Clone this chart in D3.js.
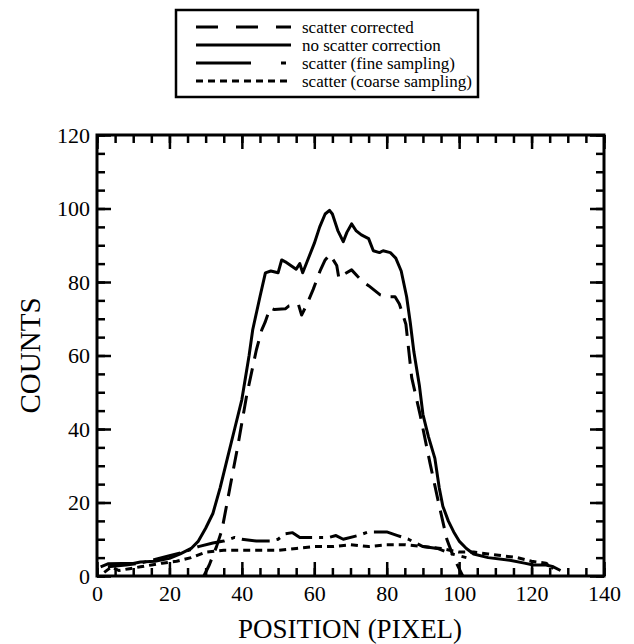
<!DOCTYPE html>
<html><head><meta charset="utf-8">
<script src="https://cdn.jsdelivr.net/npm/d3@7"></script>
<style>body{margin:0;background:#fff}svg text{font-family:"Times New Roman",Times,"Liberation Serif","DejaVu Serif","Noto Serif",serif !important;fill:#000}</style>
</head><body>
<svg id="c" width="634" height="644"></svg>
<script>
const xTicks=[0,20,40,60,80,100,120,140];
const yTicks=[0,20,40,60,80,100,120];
const seriesNames=["scatter corrected","no scatter correction","scatter (fine sampling)","scatter (coarse sampling)"];

const posCorr=[29.5,31,33,34.5,36.7,39,41.3,44,45.5,46.4,47.8,49,52,53,55.6,56.5,58,59.7,61.6,63,64.3,66.2,66.8,68,70.3,72,73.5,75,78.2,80,82.3,83.5,85.3,86.9,89.2,92,94.3,96.6,98.5,100,101];
const cntCorr=[0,3,8,12.5,24,36,49,61.5,67,69,73,72.5,72.7,73.5,74,71,74,78,83,86,87.5,84.5,81,82,83.3,81.5,80,79,76.5,76,76,74,68.5,54,44,30.5,20,10,5,2,0];

const posNoCorr=[1,3,7,10,12,16,20,23,26,28,30,32,34,36,38,40,42,43,45,46.5,48,50,51,52,53.5,55,56,56.8,58,60,61.5,63,64.2,65,66.5,68,69,70.3,71.5,73,75,76.3,78,79,81,82.5,84,85.5,86.5,87.5,89,90,91.5,93.3,94.5,95.5,97,98.5,100,102,104,108,114,118,120.5,124,126,128];
const cntNoCorr=[2.5,3.3,3.4,3.4,3.8,4,4.8,6,7.5,9.5,13,17,24,32,40,48,60,67,76,82.5,83,82.5,86,85.5,84.5,83.5,85,82.5,85.5,90.5,95,98.5,99.5,98.5,94,91,93.5,95.8,94,92.8,91.8,88.5,88,88.5,88,86.5,83,76,69,61,52,44,38,32,24,19,15,12,9.5,7.5,6,5,4.3,3.5,3,3,2.5,1.5];

const posFine=[3,8,12,16,20,24,28,32,35,38,40,44,48,50,52,54,56,60,64,66,68,72,75,80,83,86,90,94,98,102];
const cntFine=[2.5,3,3.5,4.5,5.5,6.5,8,9,9.5,10.5,10,9.5,9.5,10,11.5,11.8,10.5,10.5,10.5,11,10,11,12,12,11,10,8,7.5,6,5];

const posCoarse=[2,4,6,9,12,15,18,22,26,30,35,40,45,50,55,60,65,70,75,80,85,90,95,100,104,108,112,116,120,124,126];
const cntCoarse=[1,2.5,1.5,2,2.5,3,3.5,4,5,6.5,7,7,7,7,7.5,8,8,8.5,8,8.5,8.5,8,7.5,6.5,6.5,6,5.5,5,4,3.5,2];

const FF="'Times New Roman', Times, 'Liberation Serif', 'DejaVu Serif', serif";
const svg=d3.select("#c");
const x=d3.scaleLinear().domain([0,140]).range([97,604]);
const y=d3.scaleLinear().domain([0,120]).range([576,135]);
const minorX=d3.range(0,141,5), minorY=d3.range(0,121,5);

function styleAxis(g){g.attr("font-family",FF);g.select(".domain").remove();g.selectAll("line").attr("stroke","#000").attr("stroke-width",2.5);}

// bottom
svg.append("g").attr("transform",`translate(0,${y(0)})`).call(d3.axisBottom(x).tickValues(minorX).tickSizeInner(-8).tickSizeOuter(0).tickFormat("")).call(styleAxis);
svg.append("g").attr("transform",`translate(0,${y(0)})`).call(d3.axisBottom(x).tickValues(xTicks).tickSizeInner(-14).tickSizeOuter(0).tickPadding(9)).call(styleAxis)
  .selectAll("text").attr("font-size",22).attr("font-family",FF);
// top
svg.append("g").attr("transform",`translate(0,${y(120)})`).call(d3.axisTop(x).tickValues(minorX).tickSizeInner(-8).tickSizeOuter(0).tickFormat("")).call(styleAxis);
svg.append("g").attr("transform",`translate(0,${y(120)})`).call(d3.axisTop(x).tickValues(xTicks).tickSizeInner(-14).tickSizeOuter(0).tickFormat("")).call(styleAxis);
// left
svg.append("g").attr("transform",`translate(${x(0)},0)`).call(d3.axisLeft(y).tickValues(minorY).tickSizeInner(-8).tickSizeOuter(0).tickFormat("")).call(styleAxis);
svg.append("g").attr("transform",`translate(${x(0)},0)`).call(d3.axisLeft(y).tickValues(yTicks).tickSizeInner(-14).tickSizeOuter(0).tickPadding(7)).call(styleAxis)
  .selectAll("text").attr("font-size",22).attr("font-family",FF);
// right
svg.append("g").attr("transform",`translate(${x(140)},0)`).call(d3.axisRight(y).tickValues(minorY).tickSizeInner(-8).tickSizeOuter(0).tickFormat("")).call(styleAxis);
svg.append("g").attr("transform",`translate(${x(140)},0)`).call(d3.axisRight(y).tickValues(yTicks).tickSizeInner(-14).tickSizeOuter(0).tickFormat("")).call(styleAxis);

// frame
svg.append("rect").attr("x",x(0)).attr("y",y(120)).attr("width",x(140)-x(0)).attr("height",y(0)-y(120))
  .attr("fill","none").attr("stroke","#000").attr("stroke-width",3);

const line=d3.line().x(d=>x(d[0])).y(d=>y(d[1]));
const series=[
  {pos:posCorr,cnt:cntCorr,dash:"18,10",dashL:"22,18"},
  {pos:posNoCorr,cnt:cntNoCorr,dash:null,dashL:null},
  {pos:posFine,cnt:cntFine,dash:"28,7,4,7",dashL:"55,30,5,200"},
  {pos:posCoarse,cnt:cntCoarse,dash:"7,5",dashL:"7,5"}
];
series.forEach(s=>{
  svg.append("path").datum(s.pos.map((p,i)=>[p,s.cnt[i]])).attr("d",line)
    .attr("fill","none").attr("stroke","#000").attr("stroke-width",3)
    .attr("stroke-linejoin","round").attr("stroke-dasharray",s.dash);
});

// axis titles
svg.append("text").attr("x",350).attr("y",638).attr("text-anchor","middle").attr("font-family",FF).attr("font-size",27).text("POSITION (PIXEL)");
svg.append("text").attr("transform",`translate(40,${(y(0)+y(120))/2}) rotate(-90)`).attr("text-anchor","middle").attr("font-family",FF).attr("font-size",29).text("COUNTS");

// legend
const lg=svg.append("g");
lg.append("rect").attr("x",176).attr("y",10).attr("width",302).attr("height",87).attr("fill","#fff").attr("stroke","#000").attr("stroke-width",2.5);
const rowY=[27,45,63,81];
series.forEach((s,i)=>{
  lg.append("line").attr("x1",196).attr("x2",291).attr("y1",rowY[i]).attr("y2",rowY[i])
    .attr("stroke","#000").attr("stroke-width",3).attr("stroke-dasharray",s.dashL);
  lg.append("text").attr("x",302).attr("y",rowY[i]).attr("dy","0.33em").attr("font-family",FF).attr("font-size",17).text(seriesNames[i]);
});
</script>
</body></html>
